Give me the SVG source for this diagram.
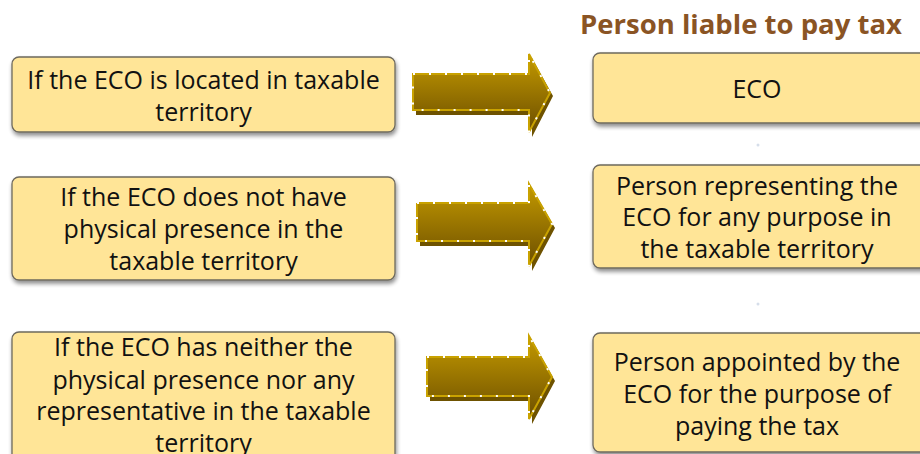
<svg xmlns="http://www.w3.org/2000/svg" width="920" height="454" viewBox="0 0 920 454">
  <style>
    .box { fill: #FFE597; stroke: #6E6A5E; stroke-width: 1.3; }
    .txt { font-family: "Open Sans", "Noto Sans", "Liberation Sans", sans-serif; font-size: 25px; fill: #111; text-anchor: middle; }
    .title { font-family: "Open Sans", "Noto Sans", "Liberation Sans", sans-serif; font-size: 27.5px; font-weight: bold; fill: #8A5424; }
    .arrow { fill: url(#gold); stroke: #C9A200; stroke-width: 2; }
    .dots { fill: none; stroke: #FFFFFF; stroke-width: 2; stroke-dasharray: 2 14; }
    .ashadow { fill: #6E5200; }
  </style>
  <defs>
    <linearGradient id="gold" x1="0" y1="0" x2="0" y2="1">
      <stop offset="0" stop-color="#C49A00"/>
      <stop offset="1" stop-color="#6C4E00"/>
    </linearGradient>
    <filter id="shadow" x="-5%" y="-10%" width="110%" height="130%">
      <feGaussianBlur in="SourceAlpha" stdDeviation="2"/>
      <feOffset dx="1" dy="3" result="b"/>
      <feComponentTransfer><feFuncA type="linear" slope="0.45"/></feComponentTransfer>
      <feMerge><feMergeNode/><feMergeNode in="SourceGraphic"/></feMerge>
    </filter>
  </defs>

  <rect width="920" height="454" fill="#FFFFFF"/>

  <text class="title" x="741" y="34" text-anchor="middle">Person liable to pay tax</text>

  <!-- condition boxes -->
  <g id="cond-located">
    <rect class="box" x="12" y="57" width="383" height="75" rx="7" filter="url(#shadow)"/>
    <text class="txt" x="203.5" y="89">If the ECO is located in taxable</text>
    <text class="txt" x="203.5" y="121">territory</text>
  </g>
  <g id="cond-no-presence">
    <rect class="box" x="12" y="177" width="383" height="103" rx="7" filter="url(#shadow)"/>
    <text class="txt" x="203.5" y="206">If the ECO does not have</text>
    <text class="txt" x="203.5" y="238">physical presence in the</text>
    <text class="txt" x="203.5" y="270">taxable territory</text>
  </g>
  <g id="cond-neither">
    <rect class="box" x="12" y="332" width="383" height="135" rx="7" filter="url(#shadow)"/>
    <text class="txt" x="203.5" y="356">If the ECO has neither the</text>
    <text class="txt" x="203.5" y="389">physical presence nor any</text>
    <text class="txt" x="203.5" y="420">representative in the taxable</text>
    <text class="txt" x="203.5" y="452">territory</text>
  </g>

  <!-- liable person boxes -->
  <g id="liable-eco">
    <rect class="box" x="593" y="53" width="340" height="70" rx="7" filter="url(#shadow)"/>
    <text class="txt" x="757" y="98">ECO</text>
  </g>
  <g id="liable-representative">
    <rect class="box" x="593" y="165" width="340" height="103" rx="7" filter="url(#shadow)"/>
    <text class="txt" x="757" y="195">Person representing the</text>
    <text class="txt" x="757" y="226">ECO for any purpose in</text>
    <text class="txt" x="757" y="258">the taxable territory</text>
  </g>
  <g id="liable-appointee">
    <rect class="box" x="593" y="333" width="340" height="119" rx="7" filter="url(#shadow)"/>
    <text class="txt" x="757" y="371">Person appointed by the</text>
    <text class="txt" x="757" y="403">ECO for the purpose of</text>
    <text class="txt" x="757" y="435">paying the tax</text>
  </g>

  <!-- faint marks between the right-hand boxes -->
  <circle cx="758" cy="145" r="1.5" fill="#D6DEEA"/>
  <circle cx="758" cy="304" r="1.5" fill="#D6DEEA"/>

  <!-- block arrows -->
  <g id="connectors">
    <g>
      <path class="ashadow" d="M416,78 H532 V58 L553,96 L532,137 V115 H416 Z"/>
      <path class="arrow" d="M413,74 H529 V54 L550,93 L529,132 V110 H413 Z"/>
      <path class="dots" d="M413,74 H529 V54 L550,93 L529,132 V110 H413 Z"/>
    </g>
    <g>
      <path class="ashadow" d="M420,207 H532 V188 L555,228 L532,271 V246 H420 Z"/>
      <path class="arrow" d="M417,203 H529 V184 L552,224 L529,266 V241 H417 Z"/>
      <path class="dots" d="M417,203 H529 V184 L552,224 L529,266 V241 H417 Z"/>
    </g>
    <g>
      <path class="ashadow" d="M430,361 H532 V340 L555,381 L532,424 V401 H430 Z"/>
      <path class="arrow" d="M427,357 H529 V336 L552,377 L529,419 V396 H427 Z"/>
      <path class="dots" d="M427,357 H529 V336 L552,377 L529,419 V396 H427 Z"/>
    </g>
  </g>
</svg>
